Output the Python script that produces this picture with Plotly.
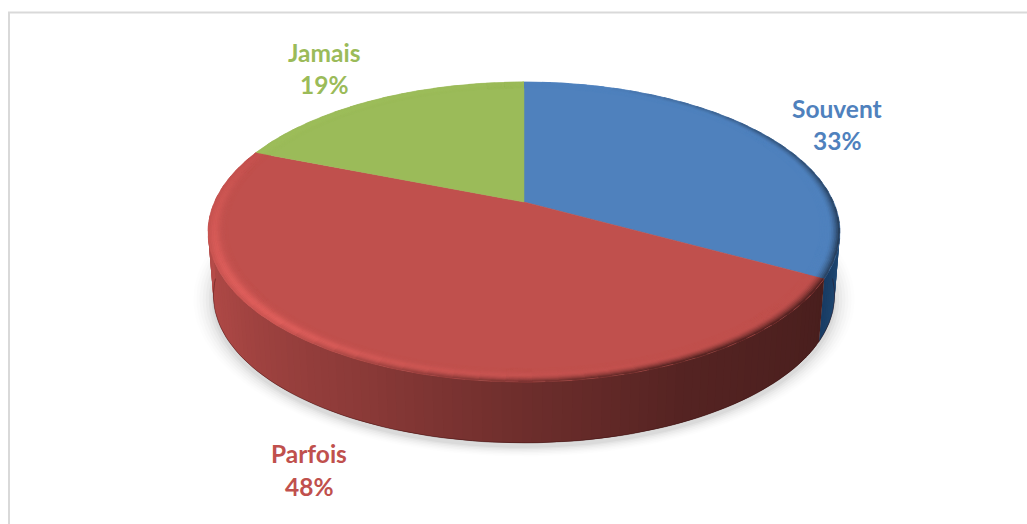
import numpy as np
import plotly.graph_objects as go

categories = ["Souvent", "Parfois", "Jamais"]
values = [33, 48, 19]
face_colors = [(79, 129, 189), (192, 80, 77), (155, 187, 89)]
label_colors = ["#4f81bd", "#c0504d", "#9bbb59"]
label_centres = [(837, 108, 140), (309, 453, 486), (324, 52, 84)]

W, H = 1027, 524
CX, CY = 524, 202
K, AX, BY = -0.2, 309.6, 144.0
DEPTH, SHRINK = 63.5, 0.983
YMID = 232


def rim(t, r=1.0):
    """Perspective projection of a disc point, t degrees clockwise from top."""
    a = np.radians(t)
    x, y = r * np.sin(a), -r * np.cos(a)
    w = 1 + K * y
    return CX + AX * x / w, CY + BY * y / w


def lower(t):
    x, y = rim(t)
    return CX + (x - CX) * SHRINK, YMID + DEPTH + (y - YMID) * SHRINK


def css(c, a=None):
    c = [int(round(min(255, max(0, v)))) for v in c]
    return f"rgb({c[0]},{c[1]},{c[2]})" if a is None else f"rgba({c[0]},{c[1]},{c[2]},{a})"


def mix(a, b, f):
    return [p + (q - p) * f for p, q in zip(a, b)]


fig = go.Figure()


def poly(xs, ys, color, line=0.0):
    fig.add_trace(go.Scatter(x=xs, y=ys, mode="lines", fill="toself", fillcolor=color,
                             line=dict(color=color, width=line), hoverinfo="skip", showlegend=False))


# soft shadow under the disc
ts = np.linspace(0, 360, 181)
for grow, alpha in [(1.065, .008), (1.055, .012), (1.045, .016), (1.035, .02), (1.025, .025),
                    (1.015, .03), (1.006, .04)]:
    xs, ys = lower(ts)
    poly(CX + (xs - CX) * grow, YMID + DEPTH + 4 + (ys - YMID - DEPTH) * grow,
         f"rgba(0,0,0,{alpha})", line=0)

# slice boundaries from the data
total = sum(values)
bounds = np.concatenate([[0], np.cumsum(values)]) / total * 360

# side wall
RED_T = [95, 120, 155, 180, 205, 240, 265]
RED_F = [.38, .38, .44, .57, .72, .88, .95]
for i, face in enumerate(face_colors):
    t0, t1 = max(bounds[i], 95), min(bounds[i + 1], 265)
    if t1 <= t0:
        continue
    edges = np.arange(t0, t1 + 1.5, 1.5)
    edges[-1] = t1
    for a, b in zip(edges[:-1], edges[1:]):
        mid = (a + b) / 2
        if i == 0:
            col = mix((24, 60, 100), (36, 80, 125), (118 - mid) / 20)
        else:
            col = [v * np.interp(mid, RED_T, RED_F) for v in face]
        seg = np.array([a, min(b + 1.5, t1)])
        tx, ty = rim(seg)
        lx, ly = lower(seg)
        poly([tx[0], tx[1], lx[1], lx[0]], [ty[0], ty[1], ly[1], ly[0]], css(col))
    seg = np.linspace(t0, t1, 80)
    lx, ly = lower(seg)
    fig.add_trace(go.Scatter(x=lx, y=ly, mode="lines", line=dict(color="rgba(50,10,10,0.4)", width=1.0),
                             hoverinfo="skip", showlegend=False))

# top faces
for i, face in enumerate(face_colors):
    seg = np.linspace(bounds[i], bounds[i + 1], 160)
    x, y = rim(seg)
    poly(np.r_[CX, x, CX], np.r_[CY, y, CY], css(face), line=0.5)

# bevel along the outer edge of each face
radii = np.linspace(.94, 1.0, 13)
for i, face in enumerate(face_colors):
    edges = np.arange(bounds[i], bounds[i + 1] + 4, 4.0)
    edges[-1] = bounds[i + 1]
    for a, b in zip(edges[:-1], edges[1:]):
        mid = (a + b) / 2
        light = np.exp(-((mid - 228) / 48) ** 2) if i == 1 else 0.1 * np.exp(-((mid - 320) / 40) ** 2)
        dark = np.clip(1 - abs(mid - 105) / 85, 0, 1) ** .7
        if i == 1:
            dark = np.clip((225 - mid) / 70, 0, 1)
        if i == 2:
            dark = 0
        for r0, r1 in zip(radii[:-1], radii[1:]):
            rm = (r0 + r1) / 2
            lp = np.exp(-((rm - .982) / .018) ** 2) * .62
            dp = np.clip((rm - .968) / .032, 0, 1) ** 1.6
            col = mix(face, [min(255, v * 1.22) + 6 for v in face], light * lp)
            side = [v * .38 for v in face] if i == 1 else [v * .42 for v in face]
            col = mix(col, side, dark * dp)
            seg = np.array([a, min(b + 2, bounds[i + 1])])
            ox, oy = rim(seg, r1)
            ix, iy = rim(seg, r0)
            poly([ox[0], ox[1], ix[1], ix[0]], [oy[0], oy[1], iy[1], iy[0]], css(col), line=0.4)

# labels
for name, v, col, (lx, y1, y2) in zip(categories, values, label_colors, label_centres):
    for txt, yy in ((name, y1), (f"{v}%", y2)):
        fig.add_annotation(x=lx, y=yy, text=txt, showarrow=False, xanchor="center", yanchor="middle",
                           font=dict(family="Lato", size=24.5, color=col, weight="bold"))

# chart frame
FRAME = "#d9d9d9"
fig.add_shape(type="line", x0=8, x1=W, y0=12.5, y1=12.5, line=dict(color=FRAME, width=2))
fig.add_shape(type="line", x0=9, x1=9, y0=12.5, y1=H, line=dict(color=FRAME, width=2))

fig.update_layout(
    width=W, height=H, margin=dict(l=0, r=0, t=0, b=0),
    paper_bgcolor="white", plot_bgcolor="white", showlegend=False,
    xaxis=dict(range=[0, W], visible=False, fixedrange=True),
    yaxis=dict(range=[H, 0], visible=False, fixedrange=True),
)
fig.write_html("out.html", config={"displayModeBar": False},
               post_script="document.body.style.margin='0';document.documentElement.style.overflow='hidden';")
